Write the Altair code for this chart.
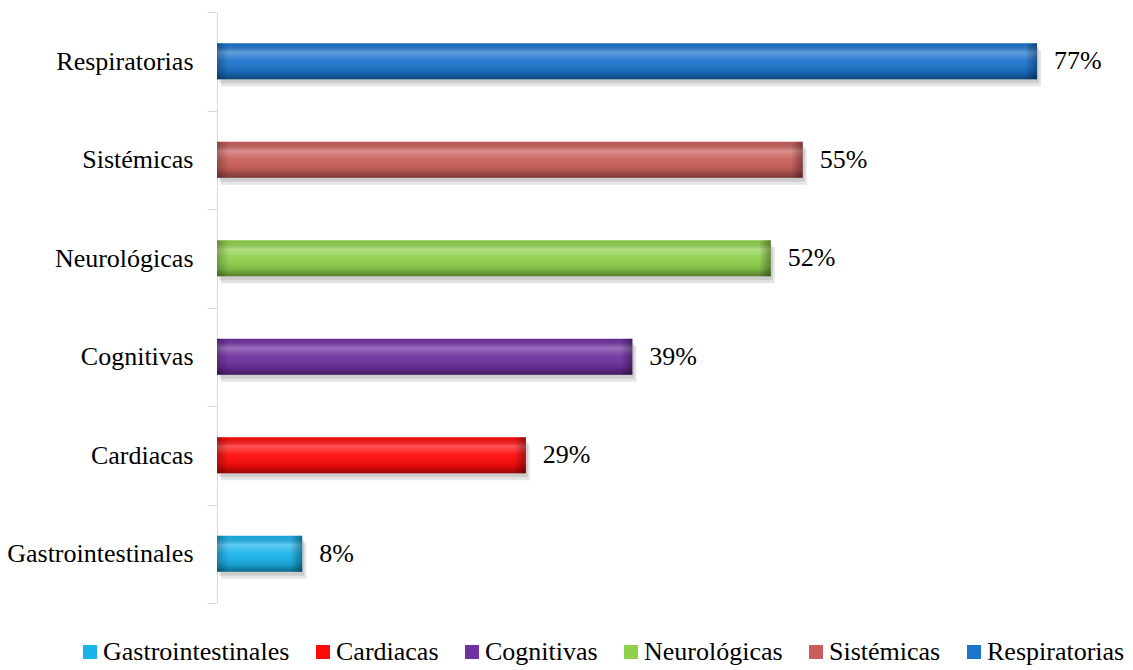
import altair as alt
import pandas as pd

categories = ["Respiratorias", "Sistémicas", "Neurológicas", "Cognitivas", "Cardiacas", "Gastrointestinales"]
values = [77, 55, 52, 39, 29, 8]
legend_order = ["Gastrointestinales", "Cardiacas", "Cognitivas", "Neurológicas", "Sistémicas", "Respiratorias"]
legend_colors = ["#19b3ea", "#ff0a0a", "#7030a0", "#8fd04c", "#c95e5a", "#1c74cc"]

df = pd.DataFrame({"cat": categories, "val": values})
df["label"] = [f"{v}%" for v in values]

FONT = "Liberation Serif"
FS = 26
W, H = 852, 591
BAR = 36

y_enc = alt.Y("cat:N", sort=categories, title=None,
              scale=alt.Scale(paddingInner=0, paddingOuter=0),
              axis=alt.Axis(domainColor="#d9d9d9", tickColor="#d9d9d9", tickSize=10,
                            tickBand="extent", labelFont=FONT, labelFontSize=FS,
                            labelColor="#000000", labelPadding=14, grid=False,
                            labelLimit=400))
x_scale = alt.Scale(domain=[0, 80])

base = alt.Chart(df)

shadow1 = base.mark_bar(size=BAR, color="#000000", opacity=0.10, yOffset=7, xOffset=4).encode(
    x=alt.X("val:Q", scale=x_scale, axis=None), y=y_enc)
shadow2 = base.mark_bar(size=BAR, color="#000000", opacity=0.10, yOffset=4, xOffset=2).encode(
    x=alt.X("val:Q", scale=x_scale, axis=None), y=y_enc)

bars = base.mark_bar(size=BAR).encode(
    x=alt.X("val:Q", scale=x_scale, axis=None),
    y=y_enc,
    color=alt.Color("cat:N", scale=alt.Scale(domain=legend_order, range=legend_colors),
                    legend=alt.Legend(title=None, orient="none", direction="horizontal",
                                      legendX=-140, legendY=627,
                                      symbolType="square", symbolSize=196,
                                      symbolStrokeWidth=0, labelFont=FONT,
                                      labelFontSize=FS, labelColor="#000000",
                                      labelLimit=400,
                                      labelOffset=0, columnPadding=20)),
)

shine = base.mark_bar(size=BAR, color=alt.Gradient(
    gradient="linear", x1=0, x2=0, y1=0, y2=1,
    stops=[alt.GradientStop(color="rgba(0,0,0,0.05)", offset=0),
           alt.GradientStop(color="rgba(255,255,255,0.30)", offset=0.25),
           alt.GradientStop(color="rgba(255,255,255,0.05)", offset=0.5),
           alt.GradientStop(color="rgba(0,0,0,0.12)", offset=0.8),
           alt.GradientStop(color="rgba(0,0,0,0.40)", offset=1)])).encode(
    x=alt.X("val:Q", scale=x_scale, axis=None), y=y_enc)

right_cap = base.transform_calculate(start="datum.val - 1.1").mark_bar(size=BAR, color=alt.Gradient(
    gradient="linear", x1=0, x2=1, y1=0, y2=0,
    stops=[alt.GradientStop(color="rgba(0,0,0,0.0)", offset=0),
           alt.GradientStop(color="rgba(0,0,0,0.35)", offset=1)])).encode(
    x=alt.X("start:Q", scale=x_scale, axis=None), x2="val:Q", y=y_enc)

left_cap = base.transform_calculate(start="0", end="1.1").mark_bar(size=BAR, color=alt.Gradient(
    gradient="linear", x1=0, x2=1, y1=0, y2=0,
    stops=[alt.GradientStop(color="rgba(0,0,0,0.25)", offset=0),
           alt.GradientStop(color="rgba(0,0,0,0.0)", offset=1)])).encode(
    x=alt.X("start:Q", scale=x_scale, axis=None), x2="end:Q", y=y_enc)

text = base.mark_text(align="left", baseline="middle", dx=17, font=FONT, fontSize=FS,
                      color="#000000").encode(
    x=alt.X("val:Q", scale=x_scale, axis=None), y=y_enc, text="label:N")

chart = alt.layer(shadow1, shadow2, bars, shine, right_cap, left_cap, text).properties(
    width=W, height=H,
    autosize=alt.AutoSizeParams(type="none"),
    padding={"left": 217, "top": 12, "right": 1133 - 217 - W, "bottom": 670 - 12 - H},
).configure(background="#ffffff", font=FONT).configure_view(stroke=None).configure_text(font=FONT)

chart.save("out.html", embed_options={"renderer": "svg", "actions": False})
